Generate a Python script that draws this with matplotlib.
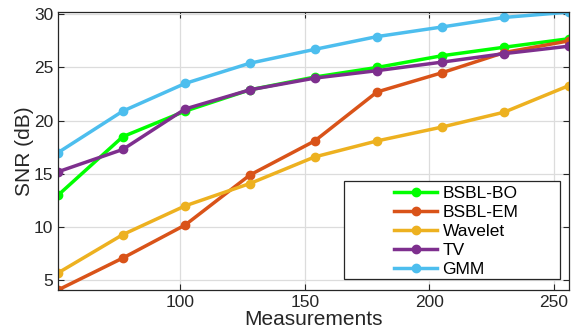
"""SNR versus number of measurements for several reconstruction methods."""
import matplotlib
matplotlib.use("Agg")
import matplotlib.pyplot as plt
from matplotlib.patches import Rectangle

plt.rcParams["font.family"] = ["Liberation Sans", "DejaVu Sans"]

# Data
measurements = [51, 77, 102, 128, 154, 179, 205, 230, 256]
bsbl_bo = [13.0, 18.5, 20.9, 22.9, 24.1, 25.0, 26.1, 26.9, 27.7]
bsbl_em = [4.1, 7.1, 10.2, 14.9, 18.1, 22.7, 24.5, 26.4, 27.5]
wavelet = [5.7, 9.3, 12.0, 14.1, 16.6, 18.1, 19.4, 20.8, 23.3]
tv = [15.2, 17.3, 21.1, 22.9, 24.0, 24.7, 25.5, 26.3, 27.0]
gmm = [17.0, 20.9, 23.5, 25.4, 26.7, 27.9, 28.8, 29.7, 30.2]

series = [
    ("BSBL-BO", bsbl_bo, "#00ff00"),
    ("BSBL-EM", bsbl_em, "#D95319"),
    ("Wavelet", wavelet, "#EDB120"),
    ("TV", tv, "#7E2F8E"),
    ("GMM", gmm, "#4DBEEE"),
]

fig = plt.figure(figsize=(5.71, 3.36), dpi=100)
ax = fig.add_axes([0.1016, 0.137, 0.8949, 0.827])

for name, vals, color in series:
    ax.plot(measurements, vals, "-o", color=color, lw=2.5, ms=6, label=name)

ax.set_xlim(51, 256)
ax.set_ylim(4.1, 30.2)
ax.set_xticks([100, 150, 200, 250])
ax.set_yticks([5, 10, 15, 20, 25, 30])
ax.grid(True, color="#dcdcdc", lw=0.9)
ax.set_axisbelow(True)
ax.tick_params(direction="in", top=True, right=True, labelsize=12.5,
               length=4, width=0.8, color="#262626", labelcolor="#262626")
for sp in ax.spines.values():
    sp.set_color("#262626")
    sp.set_linewidth(0.9)

ax.set_xlabel("Measurements", fontsize=15, color="#262626", labelpad=0)
ax.set_ylabel("SNR (dB)", fontsize=15, color="#262626", labelpad=0)

# legend box drawn separately so it can be wider than its entries
ax.add_patch(Rectangle((0.5597, 0.0396), 0.4227, 0.3524, transform=ax.transAxes,
                       facecolor="white", edgecolor="#262626", lw=0.9, zorder=5))
leg = ax.legend(loc="center left", bbox_to_anchor=(0.6575, 0.21), fontsize=12.5,
                frameon=False, handlelength=2.5, labelspacing=0.22, borderpad=0,
                handletextpad=0.3, borderaxespad=0)
leg.set_zorder(6)

fig.savefig("out.png", dpi=100)
